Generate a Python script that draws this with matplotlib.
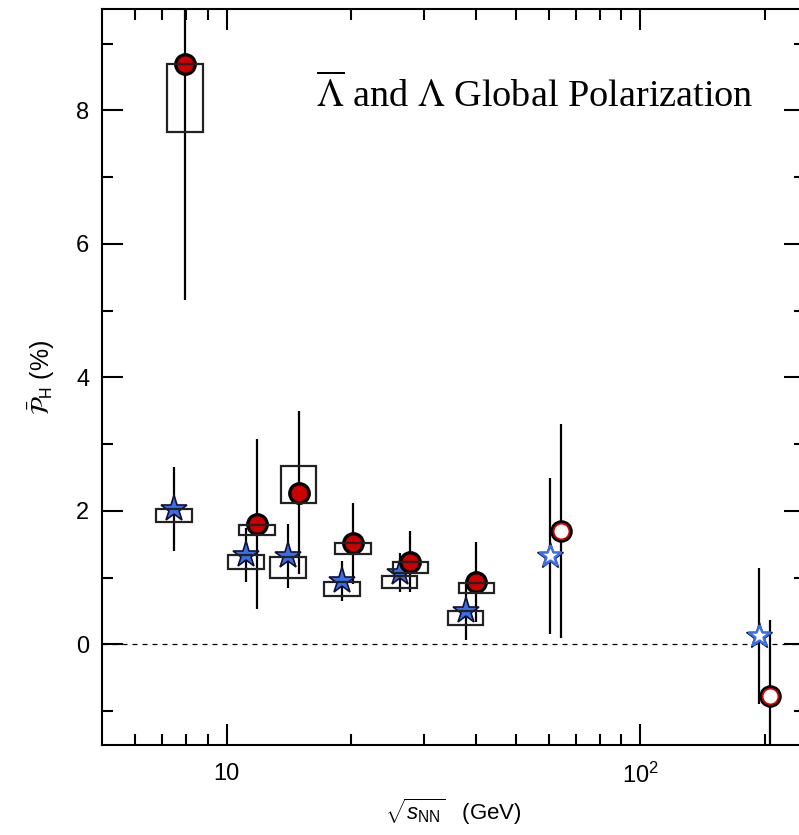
import numpy as np
import matplotlib
matplotlib.use("Agg")
import matplotlib.pyplot as plt
from matplotlib.patches import Rectangle
from matplotlib.ticker import FixedLocator, FixedFormatter

plt.rcParams['font.family'] = ['Liberation Sans', 'DejaVu Sans']
plt.rcParams['mathtext.fontset'] = 'custom'
plt.rcParams['mathtext.rm'] = 'Liberation Sans'
plt.rcParams['mathtext.it'] = 'Liberation Sans:italic'
plt.rcParams['mathtext.bf'] = 'Liberation Sans:bold'

# beam energies (GeV), BES-I
energies = [7.7, 11.5, 14.5, 19.6, 27.0, 39.0]
# Lambda (stars)
lam_val = [2.03, 1.34, 1.32, 0.95, 1.07, 0.50]
lam_stat = [0.63, 0.40, 0.48, 0.30, 0.29, 0.43]
lam_sys_lo = [1.83, 1.13, 1.00, 0.73, 0.84, 0.29]
lam_sys_hi = [2.03, 1.33, 1.31, 0.94, 1.03, 0.50]
# anti-Lambda (circles)
alam_val = [8.69, 1.80, 2.27, 1.51, 1.24, 0.93]
alam_stat = [3.53, 1.27, 1.22, 0.60, 0.46, 0.60]
alam_sys_lo = [7.68, 1.63, 2.12, 1.35, 1.07, 0.775]
alam_sys_hi = [8.69, 1.79, 2.67, 1.51, 1.23, 0.925]

# earlier results (open symbols)
old_energies = [62.4, 200.0]
old_lam_val = [1.32, 0.12]
old_lam_stat = [1.17, 1.02]
old_alam_val = [1.70, -0.78]
old_alam_stat = [1.60, 1.14]

# small horizontal shifts so the two species don't overlap
shift_lam = 0.97
shift_alam = 1.03
box_half = 0.043  # decades

red = '#cc0000'
blue = '#3b6fe8'

fig = plt.figure(figsize=(7.99, 8.35), dpi=100)
ax = fig.add_axes([102 / 799, 90 / 835, 703 / 799, 736 / 835])

x_lam = np.array(energies) * shift_lam
x_alam = np.array(energies) * shift_alam
xo_lam = np.array(old_energies) * shift_lam
xo_alam = np.array(old_energies) * shift_alam

ax.axhline(0, color='black', lw=0.9, ls=(0, (4, 4)), zorder=1)

# statistical errors
ax.errorbar(x_lam, lam_val, yerr=lam_stat, fmt='none', ecolor='black', elinewidth=1.6, capsize=0, zorder=2)
ax.errorbar(x_alam, alam_val, yerr=alam_stat, fmt='none', ecolor='black', elinewidth=1.6, capsize=0, zorder=2)
ax.errorbar(xo_lam, old_lam_val, yerr=old_lam_stat, fmt='none', ecolor='black', elinewidth=1.6, capsize=0, zorder=2)
ax.errorbar(xo_alam, old_alam_val, yerr=old_alam_stat, fmt='none', ecolor='black', elinewidth=1.6, capsize=0, zorder=2)

# markers
ax.plot(x_lam, lam_val, '*', ms=20, mfc=blue, mec='#111133', mew=1.2, zorder=3)
ax.plot(x_alam, alam_val, 'o', ms=14, mfc=red, mec='black', mew=2.4, zorder=3)
ax.plot(xo_lam, old_lam_val, '*', ms=20, mfc='white', mec='#111133', mew=1.0, zorder=3)
ax.plot(xo_lam, old_lam_val, '*', ms=16.5, mfc='white', mec=blue, mew=1.8, zorder=3)
ax.plot(xo_alam, old_alam_val, 'o', ms=14, mfc='white', mec='black', mew=2.2, zorder=3)
ax.plot(xo_alam, old_alam_val, 'o', ms=11.4, mfc='white', mec=red, mew=1.3, zorder=3)

# systematic boxes
f = 10 ** box_half
for xs, lo, hi in [(x_lam, lam_sys_lo, lam_sys_hi), (x_alam, alam_sys_lo, alam_sys_hi)]:
    for xc, l, h in zip(xs, lo, hi):
        ax.add_patch(Rectangle((xc / f, l), xc * f - xc / f, h - l, fill=False,
                               ec='#222222', lw=1.6, zorder=4))

ax.set_xscale('log')
ax.set_xlim(5, 250)
ax.set_ylim(-1.51, 9.52)

ax.xaxis.set_major_locator(FixedLocator([10, 100]))
ax.xaxis.set_major_formatter(FixedFormatter(['10', r'$10^2$']))
ax.xaxis.set_minor_locator(FixedLocator([6, 7, 8, 9, 20, 30, 40, 50, 60, 70, 80, 90, 200]))
ax.xaxis.set_minor_formatter(FixedFormatter([]))
ax.yaxis.set_major_locator(FixedLocator([0, 2, 4, 6, 8]))
ax.yaxis.set_minor_locator(FixedLocator([-1, 1, 3, 5, 7, 9]))

ax.tick_params(which='both', direction='in', top=True, right=True, width=1.5, labelsize=17)
ax.tick_params(which='major', length=15)
ax.tick_params(which='minor', length=8)
ax.tick_params(axis='x', pad=13)
ax.tick_params(axis='y', pad=9)
for s in ax.spines.values():
    s.set_linewidth(1.5)

ax.set_xlabel(r'$\sqrt{s_{\mathrm{NN}}}$   (GeV)', fontsize=16, labelpad=6)
ax.set_ylabel(r'$\bar{\mathcal{P}}_{\mathrm{H}}$ (%)', fontsize=18, labelpad=14, math_fontfamily='stixsans')

ax.text(0.305, 0.867, r'$\overline{\Lambda}$ and $\Lambda$ Global Polarization',
        transform=ax.transAxes, fontsize=27.5, fontfamily='Liberation Serif', math_fontfamily='stix',
        ha='left', va='baseline')

fig.savefig('out.png', dpi=100)
